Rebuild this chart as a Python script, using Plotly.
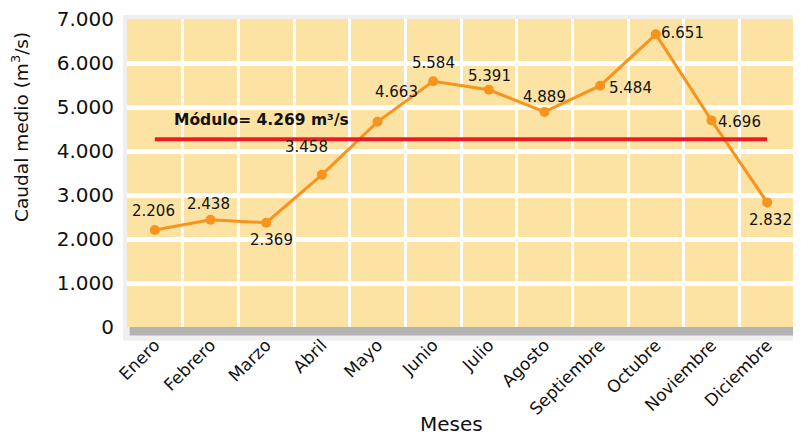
import plotly.graph_objects as go

meses = ["Enero", "Febrero", "Marzo", "Abril", "Mayo", "Junio", "Julio",
         "Agosto", "Septiembre", "Octubre", "Noviembre", "Diciembre"]
caudal = [2206, 2438, 2369, 3458, 4663, 5584, 5391, 4889, 5484, 6651, 4696, 2832]
modulo = 4269
y_ticks = [0, 1000, 2000, 3000, 4000, 5000, 6000, 7000]

# label offsets (px) relative to each point: (dx, dy screen-down)
label_offsets = [(-1, -19), (-2, -16), (5, 17), (-15, -28), (19, -30), (0, -18),
                 (1, -14), (0, -15), (30, 2), (27, -1), (28, 2), (3, 18)]

FONT = "DejaVu Sans"
ORANGE = "#f7941d"

fig = go.Figure()
fig.add_trace(go.Scatter(
    x=meses, y=caudal, mode="lines+markers",
    line=dict(color=ORANGE, width=3),
    marker=dict(color=ORANGE, size=10),
    cliponaxis=False, showlegend=False, hoverinfo="x+y",
))

for m, v, (dx, dy) in zip(meses, caudal, label_offsets):
    fig.add_annotation(x=m, y=v, xref="x", yref="y", text=f"{v:,}".replace(",", "."),
                       showarrow=False, xshift=dx, yshift=-dy,
                       font=dict(family=FONT, size=15, color="#111"))

# background + drop shadow (paper coords)
fig.add_shape(type="rect", xref="paper", yref="paper", x0=-0.006, x1=1.012, y0=-0.045, y1=1.013,
              fillcolor="#efefef", line_width=0, layer="below")
fig.add_shape(type="rect", xref="paper", yref="paper", x0=0.004, x1=1.007, y0=-0.028, y1=0.99,
              fillcolor="#b3b3b3", line_width=0, layer="below")
fig.add_shape(type="rect", xref="paper", yref="paper", x0=0, x1=1, y0=0, y1=1,
              fillcolor="#fde3a3", line_width=0, layer="below")

# módulo line
fig.add_shape(type="line", xref="x", yref="y", x0=0, x1=11, y0=modulo, y1=modulo,
              line=dict(color="#ed1c24", width=4), layer="above")
fig.add_annotation(x=0.3, y=modulo, xref="x", yref="y", xanchor="left", yanchor="bottom",
                   yshift=8, showarrow=False,
                   text="<b>Módulo= 4.269 m³/s</b>",
                   font=dict(family=FONT, size=15.5, color="#111"))

# axis titles
fig.add_annotation(x=-0.160, y=0.65, xref="paper", yref="paper", xanchor="center",
                   yanchor="middle", showarrow=False, textangle=-90,
                   text="Caudal medio (m<sup>3</sup>/s)",
                   font=dict(family=FONT, size=18.5, color="#111"))
fig.add_annotation(x=0.4865, y=-0.315, xref="paper", yref="paper", xanchor="center",
                   yanchor="middle", showarrow=False, text="Meses",
                   font=dict(family=FONT, size=20, color="#111"))

# page body has an 8px default margin, so the figure is sized/offset to compensate
fig.update_layout(
    width=793, height=428,
    margin=dict(l=119, r=6, t=11, b=109),
    paper_bgcolor="white", plot_bgcolor="rgba(0,0,0,0)",
    separators=",.",
    font=dict(family=FONT, color="#111"),
    xaxis=dict(
        type="category", tickson="boundaries", showgrid=True, gridcolor="white", gridwidth=3,
        tickangle=-45, tickfont=dict(size=17), ticks="", showline=False, zeroline=False,
        range=[-0.5, 11.5], automargin=False, ticklabelstandoff=4,
    ),
    yaxis=dict(
        range=[0, 7000], tickvals=y_ticks, tickformat=",d", showgrid=True,
        gridcolor="white", gridwidth=5, zeroline=False, showline=False,
        tickfont=dict(size=20), ticklabelstandoff=12, automargin=False,
        ticklabeloverflow="allow",
    ),
)

fig.write_html("out.html")
